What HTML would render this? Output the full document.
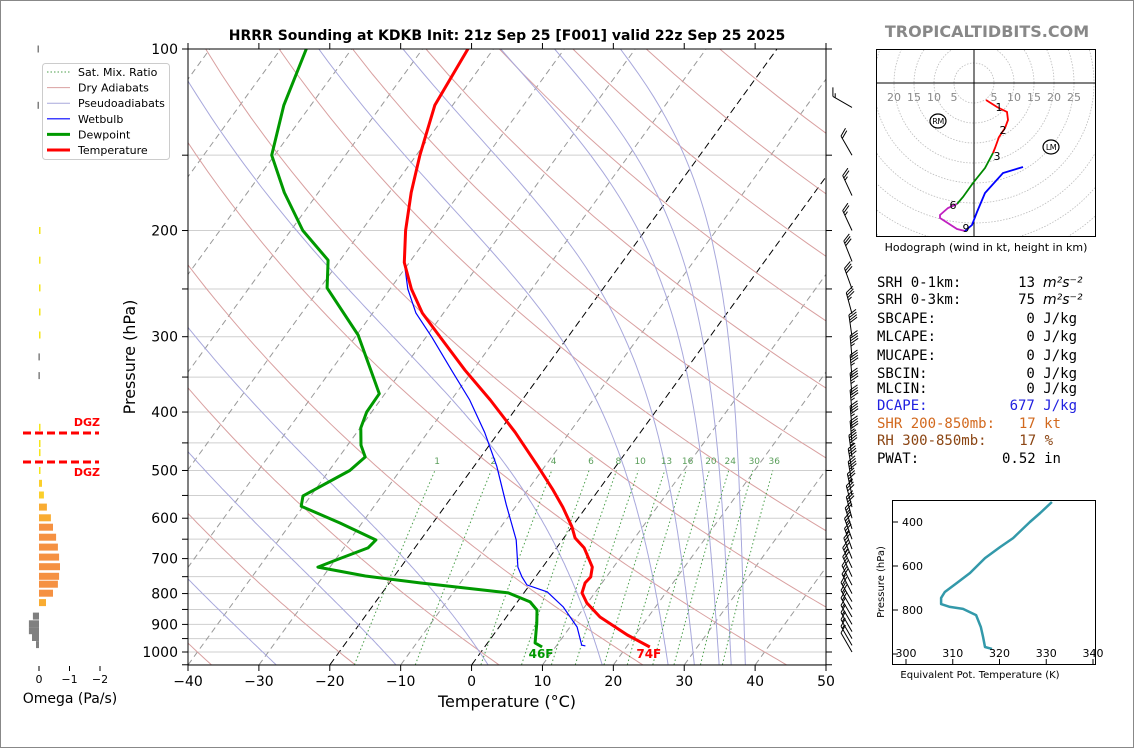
<!DOCTYPE html>
<html><head><meta charset="utf-8"><style>
html,body{margin:0;padding:0;background:#fff;}
svg{display:block;font-family:"DejaVu Sans","Liberation Sans",sans-serif;}
</style></head><body>
<svg id="fig" width="1134" height="748" viewBox="0 0 1134 748" xmlns="http://www.w3.org/2000/svg">
<defs>
<clipPath id="plotclip"><rect x="188" y="49" width="638" height="616"/></clipPath>
<clipPath id="hodoclip"><rect x="876" y="49" width="220" height="188"/></clipPath>
<clipPath id="thclip"><rect x="892" y="500" width="204" height="165"/></clipPath>
</defs>
<rect x="0.5" y="0.5" width="1133" height="747" fill="#fff" stroke="#888"/>
<text x="507" y="40" text-anchor="middle" font-size="14" font-weight="bold">HRRR Sounding at KDKB Init: 21z Sep 25 [F001] valid 22z Sep 25 2025</text>
<text x="987" y="37" text-anchor="middle" font-size="16" font-weight="bold" fill="#888">TROPICALTIDBITS.COM</text>
<g id="skew"></g>
<g id="omega"></g>
<g id="hodo"></g>
<g id="stats" font-family="'DejaVu Sans Mono','Liberation Mono',monospace" font-size="14">
<text x="877" y="287">SRH 0-1km:</text><text x="1035" y="287" text-anchor="end">13</text><text x="1043" y="287" font-style="italic" font-family="'DejaVu Sans',sans-serif">m²s⁻²</text>
<text x="877" y="304">SRH 0-3km:</text><text x="1035" y="304" text-anchor="end">75</text><text x="1043" y="304" font-style="italic" font-family="'DejaVu Sans',sans-serif">m²s⁻²</text>
<text x="877" y="323">SBCAPE:</text><text x="1077" y="323" text-anchor="end">0 J/kg</text>
<text x="877" y="341">MLCAPE:</text><text x="1077" y="341" text-anchor="end">0 J/kg</text>
<text x="877" y="360">MUCAPE:</text><text x="1077" y="360" text-anchor="end">0 J/kg</text>
<text x="877" y="378">SBCIN:</text><text x="1077" y="378" text-anchor="end">0 J/kg</text>
<text x="877" y="393">MLCIN:</text><text x="1077" y="393" text-anchor="end">0 J/kg</text>
<text x="877" y="410" fill="#2020e0">DCAPE:</text><text x="1077" y="410" text-anchor="end" fill="#2020e0">677 J/kg</text>
<text x="877" y="428" fill="#d2691e">SHR 200-850mb:</text><text x="1061" y="428" text-anchor="end" fill="#d2691e">17 kt</text>
<text x="877" y="445" fill="#8b4513">RH 300-850mb:</text><text x="1053" y="445" text-anchor="end" fill="#8b4513">17 %</text>
<text x="877" y="463">PWAT:</text><text x="1061" y="463" text-anchor="end">0.52 in</text>
</g>
<g id="theta"></g>
</svg>
<script>
// ---------- data ----------
const tempP=[100,124,150,173,200,226,250,274,301,341,382,432,492,539,575,620,647,672,723,751,768,798,829,875,937,981];
const tempT=[-63.6,-62.5,-59.5,-56.9,-53.8,-50.7,-47,-43,-37.9,-31.1,-24.5,-17.7,-11,-6.4,-3.3,0,1.6,3.9,7,7.8,7.6,8.2,9.9,13.2,18.9,23.3];
const dewP=[100,124,150,173,200,224,249,298,373,400,425,454,475,500,551,573,611,652,672,704,723,748,768,798,826,852,895,966,981];
const dewT=[-86.4,-83.8,-80.4,-74.8,-68.3,-61.7,-59,-49.8,-40.8,-40.7,-39.9,-38.1,-36.3,-37.1,-41.1,-40.3,-33.1,-26.3,-26.6,-29.9,-31.7,-24.1,-15.7,-2.2,1.8,3.6,4.9,6.7,8.1];
const wbP=[100,124,150,173,200,226,250,274,301,341,382,432,492,570,652,723,751,774,795,842,909,974,977];
const wbT=[-63.6,-62.5,-59.5,-56.9,-53.8,-50.7,-47.5,-43.9,-39.1,-33,-27.4,-22,-16.8,-11.5,-6.5,-3.5,-1.9,-0.4,3.2,7,11,13.5,14.1];
const omegaP=[100,124,200,224,249,273,298,324,348,424,451,467,500,525,549,575,599,621,645,670,696,722,749,772,799,828,872,898,922,946,972];
const omegaV=[0.05,0.05,-0.02,-0.02,-0.02,-0.02,-0.02,0.02,0.02,-0.03,-0.03,-0.05,-0.05,-0.1,-0.16,-0.26,-0.39,-0.46,-0.56,-0.62,-0.66,-0.69,-0.66,-0.62,-0.46,-0.23,0.2,0.33,0.33,0.23,0.1];
const barbP=[125,150,175,200,225,250,275,300,325,350,375,400,425,450,475,500,525,550,575,600,625,650,675,700,725,750,775,800,825,850,875,900,925,950,975,1000];
const barbDir=[300,330,335,335,338,340,345,352,355,355,355,355,355,355,352,350,350,348,345,345,342,340,340,338,335,335,333,333,330,330,330,330,330,330,330,330];
const barbSpd=[15,20,25,25,30,30,35,40,45,45,45,45,45,45,45,40,40,35,30,30,25,25,25,25,25,20,20,20,20,20,20,15,15,15,15,10];
const hodoRedU=[3,5.75,8.25,8.5,7.75,6.25,5.25,4.75];
const hodoRedV=[-4.25,-6,-7.25,-9.25,-11.25,-13.5,-16.25,-17.5];
const hodoGreenU=[4.75,2.75,-0.25,-2.75,-4.25];
const hodoGreenV=[-17.5,-21.25,-25,-28.5,-30.25];
const hodoMagU=[-4.25,-6.5,-8.5,-8.5,-4.25,-2.25];
const hodoMagV=[-30.25,-31.25,-33,-33.75,-36.5,-37];
const hodoBlueU=[-2.25,-0.5,0.75,2.75,7.25,12.25];
const hodoBlueV=[-37,-35.5,-32.25,-27.5,-22.5,-21];
const hodoLabels=["1","2","3","6","9"];
const hodoLabU=[6.25,7.25,5.75,-5.25,-2];
const hodoLabV=[-6,-11.75,-18.25,-30.5,-36.25];
const thetaP=[309,359,400,473,514,564,632,677,718,745,773,786,795,823,877,923,968,977];
const thetaK=[331.2,328.7,326.5,322.9,320.1,316.9,313.7,310.9,308.3,307.5,307.5,309.4,312.2,315,316,316.5,316.9,318.4];
const xTicks=[-40,-30,-20,-10,0,10,20,30,40,50];
const yTickLabels=[100,200,300,400,500,600,700,800,900,1000];
const mixRatios=[1,2,4,6,8,10,13,16,20,24,30,36];
const moistStarts=[-27.6,-10.7,2.3,18.4,27.7,31.4,34.9,36.6,38.6];

// ---------- helpers ----------
const NS="http://www.w3.org/2000/svg";
function mk(parent,tag,attrs,txt){const e=document.createElementNS(NS,tag);for(const k in attrs)e.setAttribute(k,attrs[k]);if(txt!==undefined)e.textContent=txt;parent.appendChild(e);return e;}
const Y=p=>49+603*Math.log10(p/100);
const X=(T,p)=>188+(T+40)*7.089+0.726*(665-Y(p));
function pathFrom(ps,ts){return ps.map((p,i)=>(i?'L':'M')+X(ts[i],p).toFixed(1)+','+Y(p).toFixed(1)).join('');}

const skew=document.getElementById('skew');
const cl=mk(skew,'g',{'clip-path':'url(#plotclip)'});



for(let p=100;p<=1050;p+=50){
  const l=mk(cl,'line',{x1:188,x2:826,y1:Y(p),y2:Y(p),stroke:'#cfcfcf','stroke-width':1});
  
  
}
for(let T=-150;T<=50;T+=10){
  const blk=(T===0||T===-20);
  const l=mk(cl,'line',{x1:X(T,1050),y1:Y(1050),x2:X(T,100),y2:Y(100),stroke:blk?'#000':'#999','stroke-width':1,'stroke-dasharray':blk?'7,4':'6,4'});
  
  
}
for(let t0=-40;t0<220;t0+=20){
  const ps=[],ts=[];
  for(let p=1050;p>=100;p-=10){ps.push(p);ts.push((t0+273.15)*Math.pow(p/1000,0.2857)-273.15);}
  const l=mk(cl,'path',{d:pathFrom(ps,ts),fill:'none',stroke:'#d9a0a0','stroke-width':1});
  
  
}
function es(Tc){return 6.112*Math.exp(17.67*Tc/(Tc+243.5));}
function dTdp(T,p){const Tc=T-273.15;const e=es(Tc);const rs=0.622*e/(p-e);const Rd=287.04,Cp=1005.7,Lv=2.501e6;return (Rd*T+Lv*rs)/(p*(Cp+Lv*Lv*rs*0.622/(Rd*T*T)));}
moistStarts.forEach(t0=>{
  let T=t0+273.15,p=1050;const ps=[1050],ts=[t0];
  while(p>100){const dp=-5;const k1=dTdp(T,p);const k2=dTdp(T+k1*dp,p+dp);T+=0.5*(k1+k2)*dp;p+=dp;ps.push(p);ts.push(T-273.15);}
  const l=mk(cl,'path',{d:pathFrom(ps,ts),fill:'none',stroke:'#a8a8dc','stroke-width':1});
  
  
});
function tdFromW(w,p){const e=w*p/(622+w);const a=Math.log(e/6.112);return 243.5*a/(17.67-a);}
mixRatios.forEach(w=>{
  const ps=[],ts=[];
  for(let p=1050;p>=500;p-=10){ps.push(p);ts.push(tdFromW(w,p));}
  const l=mk(cl,'path',{d:pathFrom(ps,ts),fill:'none',stroke:'#4a9e4a','stroke-width':1,'stroke-dasharray':'1.5,2.5'});
  
  
  const t=mk(cl,'text',{x:X(tdFromW(w,490),490),y:Y(490)-1,'font-size':9,fill:'#5a9e5a','text-anchor':'middle'},String(w));
  
  
});
const wb=mk(cl,'path',{d:pathFrom(wbP,wbT),fill:'none',stroke:'#0000ff','stroke-width':1.2});


const dw=mk(cl,'path',{d:pathFrom(dewP,dewT),fill:'none',stroke:'#009900','stroke-width':3,'stroke-linejoin':'round'});


const tp=mk(cl,'path',{d:pathFrom(tempP,tempT),fill:'none',stroke:'#ff0000','stroke-width':3,'stroke-linejoin':'round'});


const sd=mk(skew,'text',{x:X(dewT[dewT.length-1],dewP[dewP.length-1])-1,y:658,'font-size':12,'font-weight':'bold',fill:'#009900','text-anchor':'middle'},'46F');


const st=mk(skew,'text',{x:X(tempT[tempT.length-1],tempP[tempP.length-1])-1,y:658,'font-size':12,'font-weight':'bold',fill:'#ff0000','text-anchor':'middle'},'74F');



const fr=mk(skew,'rect',{x:188,y:49,width:638,height:616,fill:'none',stroke:'#000','stroke-width':1});


for(let p=100;p<=1050;p+=50){
  const y=Y(p);
  mk(skew,'line',{x1:182,x2:188,y1:y,y2:y,stroke:'#000'});
  mk(skew,'line',{x1:826,x2:832,y1:y,y2:y,stroke:'#000'});
}
yTickLabels.forEach(p=>{
  const t=mk(skew,'text',{x:178,y:Y(p)+5,'font-size':14,'text-anchor':'end'},String(p));
  
  
});
xTicks.forEach(T=>{
  const x=188+(T+40)*7.089;
  mk(skew,'line',{x1:x,x2:x,y1:665,y2:671,stroke:'#000'});
  mk(skew,'line',{x1:x,x2:x,y1:43,y2:49,stroke:'#000'});
  const t=mk(skew,'text',{x:x,y:686,'font-size':14,'text-anchor':'middle'},(T<0?'−':'')+Math.abs(T));
  
  
});
const xl=mk(skew,'text',{x:507,y:707,'font-size':16,'text-anchor':'middle'},'Temperature (°C)');


const yl=mk(skew,'text',{x:0,y:0,'font-size':16,'text-anchor':'middle',transform:'translate(135,357) rotate(-90)'},'Pressure (hPa)');



const lg=mk(skew,'g',{});


mk(lg,'rect',{x:42.5,y:63.5,width:127,height:96,rx:3,fill:'#fff','fill-opacity':0.9,stroke:'#ccc'});
const legItems=[['Sat. Mix. Ratio','#4a9e4a',1,'1.5,2'],['Dry Adiabats','#d9a0a0',1,''],['Pseudoadiabats','#a8a8dc',1,''],['Wetbulb','#0000ff',1.2,''],['Dewpoint','#009900',3,''],['Temperature','#ff0000',3,'']];
legItems.forEach((it,i)=>{
  const y=72+i*15.6;
  const e=mk(lg,'g',{});
  
  
  const a={x1:47,x2:70,y1:y,y2:y,stroke:it[1],'stroke-width':it[2]};if(it[3])a['stroke-dasharray']=it[3];
  mk(e,'line',a);
  mk(e,'text',{x:78,y:y+4,'font-size':11},it[0]);
});

const bg=mk(skew,'g',{stroke:'#000','stroke-width':1,fill:'none'});


barbP.forEach((p,i)=>{
  const d=barbDir[i]*Math.PI/180, bx=852, by=Y(p);
  const ux=Math.sin(d), uy=-Math.cos(d);
  const L=22, tx=bx+ux*L, ty=by+uy*L;
  const fa=60*Math.PI/180, fx=ux*Math.cos(fa)-uy*Math.sin(fa), fy=ux*Math.sin(fa)+uy*Math.cos(fa);
  let s='M'+bx.toFixed(1)+','+by.toFixed(1)+'L'+tx.toFixed(1)+','+ty.toFixed(1);
  let spd=barbSpd[i], pos=0;
  while(spd>=10){const px=tx-ux*pos,py=ty-uy*pos;s+='M'+px.toFixed(1)+','+py.toFixed(1)+'l'+(fx*9).toFixed(1)+','+(fy*9).toFixed(1);spd-=10;pos+=2.6;}
  if(spd>=5){if(pos===0)pos=2.6;const px=tx-ux*pos,py=ty-uy*pos;s+='M'+px.toFixed(1)+','+py.toFixed(1)+'l'+(fx*4.5).toFixed(1)+','+(fy*4.5).toFixed(1);}
  const b=mk(bg,'path',{d:s});
  
  
});

// ---------- omega panel ----------
const om=document.getElementById('omega');
const OX=v=>39-v*30.5;
function omColor(v){if(v>0)return '#808080';const a=-v;if(a<0.08)return '#f5e61a';if(a<0.2)return '#fbcf2a';if(a<0.45)return '#f9ac32';return '#f59142';}
omegaP.forEach((p,i)=>{
  const v=omegaV[i], w=Math.max(1.5,Math.abs(OX(v)-39));
  const r=mk(om,'rect',{x:(v>0?OX(v):39).toFixed(1),y:(Y(p)-3.5).toFixed(1),width:w.toFixed(1),height:7,fill:omColor(v)});
  
  
});
[[433,'DGZ',426],[462,'DGZ',476]].forEach(d=>{
  const l=mk(om,'line',{x1:23,x2:99,y1:d[0],y2:d[0],stroke:'#ff0000','stroke-width':3,'stroke-dasharray':'8,4'});
  
  
  const t=mk(om,'text',{x:100,y:d[2],'font-size':11,'font-weight':'bold',fill:'#ff0000','text-anchor':'end'},d[1]);
  
  
});
[0,-1,-2].forEach(v=>{
  const x=OX(v);
  mk(om,'line',{x1:x,x2:x,y1:666,y2:671,stroke:'#000'});
  const t=mk(om,'text',{x:x,y:683,'font-size':11,'text-anchor':'middle'},v===0?'0':'−'+Math.abs(v));
  
  
});
const ot=mk(om,'text',{x:70,y:703,'font-size':14,'text-anchor':'middle'},'Omega (Pa/s)');



// ---------- hodograph ----------
const hd=document.getElementById('hodo');
const HX=u=>974+u*4, HY=v=>83-v*4;
const hc=mk(hd,'g',{'clip-path':'url(#hodoclip)'});
for(let r=5;r<=60;r+=5){mk(hc,'circle',{cx:974,cy:83,r:r*4,fill:'none',stroke:'#bbb','stroke-width':0.8,'stroke-dasharray':'1.5,1.5'});}
mk(hc,'line',{x1:876,x2:1096,y1:83,y2:83,stroke:'#000'});
mk(hc,'line',{x1:974,x2:974,y1:49,y2:237,stroke:'#000'});
[-20,-15,-10,-5,5,10,15,20,25].forEach(k=>{
  const t=mk(hc,'text',{x:HX(k),y:101,'font-size':11,fill:'#888','text-anchor':'middle'},String(Math.abs(k)));
  
  
});
function hpath(us,vs){return us.map((u,i)=>(i?'L':'M')+HX(u).toFixed(1)+','+HY(vs[i]).toFixed(1)).join('');}
[[hodoRedU,hodoRedV,'#ff0000','hodo-0-3km'],[hodoGreenU,hodoGreenV,'#008800','hodo-3-6km'],[hodoMagU,hodoMagV,'#c020c0','hodo-6-9km'],[hodoBlueU,hodoBlueV,'#0000ff','hodo-9km-up']].forEach(s=>{
  const l=mk(hc,'path',{d:hpath(s[0],s[1]),fill:'none',stroke:s[2],'stroke-width':1.8});
  
  
});
hodoLabels.forEach((s,i)=>{
  const t=mk(hc,'text',{x:HX(hodoLabU[i]),y:HY(hodoLabV[i])+4,'font-size':11,'text-anchor':'middle'},s);
  
  
});
[[938,121,'RM'],[1051,147,'LM']].forEach(m=>{
  mk(hc,'ellipse',{cx:m[0],cy:m[1],rx:8,ry:7,fill:'#fff',stroke:'#000','stroke-width':1.2});
  const t=mk(hc,'text',{x:m[0],y:m[1]+3,'font-size':8,'text-anchor':'middle','letter-spacing':'-0.5'},m[2]);
  
  
});
mk(hd,'rect',{x:876.5,y:49.5,width:219,height:187,fill:'none',stroke:'#000'});
const hcap=mk(hd,'text',{x:986,y:251,'font-size':11,'text-anchor':'middle'},'Hodograph (wind in kt, height in km)');



// ---------- theta-e ----------
const th=document.getElementById('theta');
const TX=k=>906+(k-300)*4.675, TY=p=>522+(p-400)*0.22;
const tc=mk(th,'g',{'clip-path':'url(#thclip)'});
const tl=mk(tc,'path',{d:thetaP.map((p,i)=>(i?'L':'M')+TX(thetaK[i]).toFixed(1)+','+TY(p).toFixed(1)).join(''),fill:'none',stroke:'#3399aa','stroke-width':2.5,'stroke-linejoin':'round'});


mk(th,'rect',{x:892.5,y:500.5,width:203,height:164,fill:'none',stroke:'#000'});
[400,600,800,1000].forEach(p=>{
  mk(th,'line',{x1:893,x2:898,y1:TY(p),y2:TY(p),stroke:'#000'});
  if(p<1000){const t=mk(th,'text',{x:902,y:TY(p)+4,'font-size':11},String(p));
  
  }
});
[300,310,320,330,340].forEach(k=>{
  mk(th,'line',{x1:TX(k),x2:TX(k),y1:659,y2:665,stroke:'#000'});
  const t=mk(th,'text',{x:TX(k),y:657,'font-size':11,'text-anchor':'middle'},String(k));
  
  
});
const txl=mk(th,'text',{x:980,y:678,'font-size':10,'text-anchor':'middle'},'Equivalent Pot. Temperature (K)');


const tyl=mk(th,'text',{x:0,y:0,'font-size':10,'text-anchor':'middle',transform:'translate(884,582) rotate(-90)'},'Pressure (hPa)');


</script>
</body></html>
